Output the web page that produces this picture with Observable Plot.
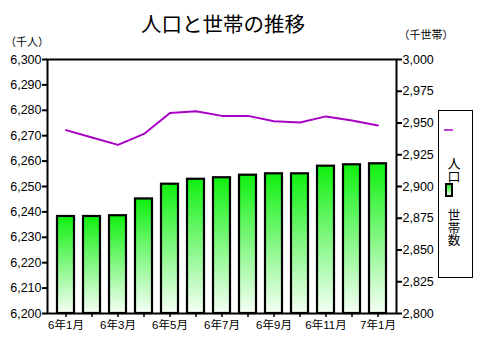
<!DOCTYPE html>
<html><head><meta charset="utf-8">
<script src="https://cdn.jsdelivr.net/npm/d3@7"></script>
<script src="https://cdn.jsdelivr.net/npm/@observablehq/plot@0.6"></script>
<style>
body{margin:0;background:#fff}
svg{display:block}
</style>
</head><body><div id="chart"></div>
<script>
const months = ["6年1月","6年2月","6年3月","6年4月","6年5月","6年6月","6年7月","6年8月","6年9月","6年10月","6年11月","6年12月","7年1月"];
const population = [6272.2, 6269.3, 6266.4, 6270.7, 6278.9, 6279.6, 6277.8, 6277.8, 6275.7, 6275.2, 6277.6, 6276.0, 6274.0];
const households = [2876.4, 2876.4, 2877.0, 2890.2, 2901.8, 2905.7, 2906.9, 2908.9, 2910.0, 2910.0, 2916.0, 2917.1, 2917.9];
const popTicks = [6200, 6210, 6220, 6230, 6240, 6250, 6260, 6270, 6280, 6290, 6300];
const hhTicks = [2800, 2825, 2850, 2875, 2900, 2925, 2950, 2975, 3000];
const title = "人口と世帯の推移";
const leftUnit = "（千人）";
const rightUnit = "（千世帯）";
const legendPop = "人口";
const legendHH = "世帯数";

const popToHH = p => hhTicks[0] + (p - popTicks[0]) * (hhTicks[hhTicks.length-1] - hhTicks[0]) / (popTicks[popTicks.length-1] - popTicks[0]);
const data = months.map((m, i) => ({month: m, pop: population[i], hh: households[i]}));
const fmt = d3.format(",");

const font = "'Liberation Sans','Noto Sans CJK JP',sans-serif";

const svg = Plot.plot({
  width: 478,
  height: 358,
  marginLeft: 47,
  marginRight: 82,
  marginTop: 59,
  marginBottom: 45,
  style: {fontFamily: font, fontSize: "12.5px", color: "#000", background: "#fff"},
  x: {type: "band", domain: months, paddingInner: 0.34, paddingOuter: 0.19},
  y: {domain: [hhTicks[0], hhTicks[hhTicks.length-1]]},
  marks: [
    Plot.barY(data, {x: "month", y1: () => hhTicks[0], y2: "hh", fill: "url(#barGrad)", stroke: "#000", strokeWidth: 2.2}),
    Plot.line(data, {x: "month", y: d => popToHH(d.pop), stroke: "#a800c4", strokeWidth: 2}),
    Plot.axisY(popTicks.map(popToHH), {anchor: "left", tickSize: 5, tickPadding: 1, strokeWidth: 2, label: null,
      tickFormat: d => fmt(Math.round(popTicks[0] + (d - hhTicks[0]) / 2)), fontSize: 12.5}),
    Plot.axisY(hhTicks, {anchor: "right", tickSize: 5, tickPadding: 1, strokeWidth: 2, label: null,
      tickFormat: d => fmt(d), fontSize: 12.5}),
    Plot.axisX(months, {anchor: "bottom", tickSize: 4, tickPadding: 3, strokeWidth: 1.5, label: null,
      tickFormat: d => months.indexOf(d) % 2 === 0 ? d : "", fontSize: 11.5}),
    Plot.frame({stroke: "#000", strokeWidth: 2})
  ]
});

const s = d3.select(svg);
s.insert("defs", ":first-child").html(
  `<linearGradient id="barGrad" x1="0" y1="0" x2="0" y2="1">
     <stop offset="0" stop-color="#0ff00f"/>
     <stop offset="1" stop-color="#f6fff6"/>
   </linearGradient>`);

const cjk = "'Noto Sans CJK JP',sans-serif";
s.append("text").attr("x", 223).attr("y", 32).attr("text-anchor", "middle")
  .attr("font-family", cjk).attr("font-size", 20.5).attr("fill", "#000").text(title);
s.append("text").attr("x", 27).attr("y", 46).attr("text-anchor", "middle")
  .attr("font-family", cjk).attr("font-size", 11).attr("fill", "#000").text(leftUnit);
s.append("text").attr("x", 426).attr("y", 39).attr("text-anchor", "middle")
  .attr("font-family", cjk).attr("font-size", 11).attr("fill", "#000").text(rightUnit);

// legend
const lg = s.append("g");
lg.append("rect").attr("x", 438.5).attr("y", 110.5).attr("width", 34).attr("height", 167)
  .attr("fill", "#fff").attr("stroke", "#000").attr("stroke-width", 1);
lg.append("line").attr("x1", 444).attr("x2", 453).attr("y1", 130).attr("y2", 130)
  .attr("stroke", "#a800c4").attr("stroke-width", 1.5);
lg.append("text").attr("x", 454).attr("y", 170)
  .attr("font-family", cjk).attr("font-size", 13).attr("fill", "#000")
  .style("writing-mode", "vertical-rl").style("text-orientation", "upright")
  .text(legendPop);
lg.append("rect").attr("x", 446).attr("y", 184).attr("width", 6).attr("height", 12)
  .attr("fill", "url(#barGrad)").attr("stroke", "#000").attr("stroke-width", 2);
lg.append("text").attr("x", 454).attr("y", 228)
  .attr("font-family", cjk).attr("font-size", 12.5).attr("fill", "#000")
  .style("writing-mode", "vertical-rl").style("text-orientation", "upright")
  .text(legendHH);

document.getElementById("chart").appendChild(svg);
</script>
</body></html>
